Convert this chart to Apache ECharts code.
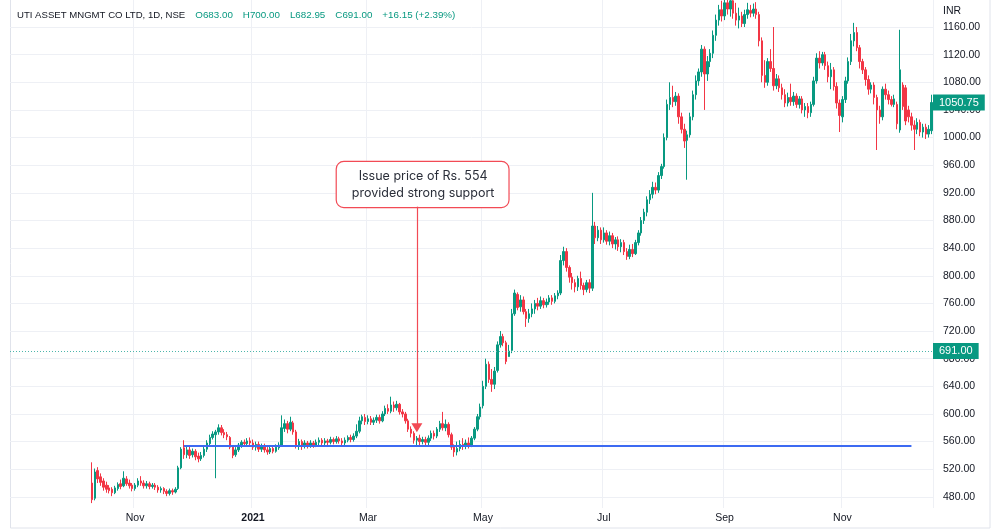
<!DOCTYPE html>
<html>
<head>
<meta charset="utf-8">
<script src="https://cdn.jsdelivr.net/npm/echarts@6/dist/echarts.min.js"></script>
<style>
html,body{margin:0;padding:0;background:#fff;}
#chart{width:1000px;height:531px;}
</style>
</head>
<body>
<div id="chart"></div>
<script>
// ---------- text ----------
const symbolTitle = 'UTI ASSET MNGMT CO LTD, 1D, NSE';
const legendValues = ['O683.00', 'H700.00', 'L682.95', 'C691.00', '+16.15 (+2.39%)'];
const currencyLabel = 'INR';
const annotationText = ['Issue price of Rs. 554', 'provided strong support'];

// ---------- axis ----------
const priceTicks = [480, 520, 560, 600, 640, 680, 720, 760, 800, 840, 880, 920, 960, 1000, 1040, 1080, 1120, 1160];
const monthLabelDates = ['2020-11-02', '2021-01-01', '2021-03-01', '2021-05-03', '2021-07-01', '2021-09-01', '2021-11-01'];
const monthLabelTexts = ['Nov', '2021', 'Mar', 'May', 'Jul', 'Sep', 'Nov'];
const axisStartDate = '2020-09-01';
const listingDate = '2020-10-12';
const holidays = ['2020-10-02', '2020-11-16', '2020-11-30', '2020-12-25', '2021-01-26', '2021-03-11', '2021-03-29',
  '2021-04-02', '2021-04-14', '2021-04-21', '2021-05-13', '2021-07-21', '2021-08-19', '2021-09-10', '2021-10-15',
  '2021-11-04', '2021-11-05', '2021-11-19'];

// ---------- key prices ----------
const issuePrice = 554;
const crosshairPrice = 691.00;
const lastPrice = 1050.75;

// ---------- daily bars: [open, close, low, high] ----------
const oct2020 = [[500,476,471,530],[478,516,475,521],[518,506,500,523],[509,501,496,514],[503,494,489,507],[497,491,486,502],[493,489,485,497],[491,486,481,494],[486,493,484,496],[492,498,489,501],[499,495,491,505],[496,507,494,517],[506,499,496,510],[500,496,492,505],[497,492,488,500]];
const nov2020 = [[492,497,489,500],[497,503,494,507],[503,500,496,510],[500,496,492,504],[496,499,492,503],[499,495,491,502],[495,497,492,500],[497,494,490,500],[494,490,486,497],[490,492,486,495],[492,488,484,494],[488,485,481,491],[485,489,482,492],[489,487,483,492],[487,491,485,494],[492,522,490,525],[522,549,520,552],[551,541,535,562],[541,548,536,553]];
const dec2020 = [[548,540,535,553],[541,546,537,550],[546,538,533,549],[539,535,530,544],[535,540,532,545],[540,549,537,553],[549,558,545,562],[557,566,553,570],[566,571,563,575],[570,574,507,577],[574,580,570,585],[580,573,569,584],[573,570,565,578],[570,567,562,574],[566,552,549,568],[552,540,536,555],[541,548,538,552],[548,555,545,558],[555,559,551,562],[559,557,553,563],[557,561,553,565],[561,558,554,566]];
const jan2021 = [[558,552,548,563],[552,556,547,560],[556,549,545,560],[549,553,545,557],[553,548,544,557],[548,545,541,552],[545,550,542,554],[550,546,543,555],[546,552,544,556],[551,555,548,559],[555,580,553,598],[579,586,574,592],[586,578,572,590],[578,588,575,596],[587,574,570,590],[574,555,550,577],[555,560,548,564],[560,553,548,563],[553,558,550,562],[558,554,550,561]];
const feb2021 = [[554,558,551,562],[558,555,551,561],[555,559,552,563],[559,562,555,566],[562,558,554,565],[558,561,555,565],[561,559,555,564],[559,563,556,567],[563,560,556,566],[560,564,557,568],[564,561,557,567],[561,558,555,565],[558,562,555,566],[562,566,559,569],[566,563,559,570],[563,568,560,572],[568,575,565,585],[575,590,572,596],[590,596,585,599],[595,589,584,600]];
const mar2021 = [[589,593,585,598],[593,588,584,597],[588,591,584,595],[591,595,587,599],[595,590,586,599],[590,600,588,604],[600,608,597,612],[608,604,600,614],[604,613,601,625],[613,609,603,618],[609,614,605,619],[614,603,599,616],[603,600,595,607],[600,590,586,603],[590,578,574,593],[578,572,566,582],[572,562,557,575],[562,565,553,568],[565,560,555,570],[560,563,556,567],[563,559,553,567]];
const apr2021 = [[559,565,555,569],[565,572,561,576],[572,568,563,576],[568,578,565,581],[578,586,574,590],[586,580,576,603],[580,585,575,592],[585,570,566,588],[570,552,548,573],[552,545,538,556],[545,550,540,560],[550,556,546,562],[556,553,548,565],[553,558,549,563],[558,555,550,566],[555,565,552,568],[565,578,562,581],[578,596,575,600],[596,610,592,615]];
const may2021 = [[612,640,608,648],[640,672,636,680],[672,650,645,676],[650,643,632,665],[643,662,636,668],[663,700,660,705],[700,712,696,720],[712,703,698,716],[703,676,672,706],[683,691,682.95,700],[692,745,688,752],[745,775,742,780],[773,754,750,776],[755,765,748,772],[765,748,744,770],[748,738,726,752],[738,745,732,752],[745,752,740,760],[752,760,745,765],[760,756,750,768]];
const jun2021 = [[756,764,752,770],[764,758,753,768],[758,762,754,767],[762,768,758,772],[768,763,758,772],[763,771,760,775],[771,775,766,779],[775,822,772,830],[822,835,815,842],[835,812,806,840],[812,798,790,815],[798,790,780,804],[790,784,776,795],[784,796,778,800],[796,786,780,806],[786,780,772,790],[780,790,776,794],[790,782,775,795],[782,872,778,920],[872,855,846,878],[855,866,850,872],[866,852,846,870]];
const jul2021 = [[852,862,848,870],[862,850,845,866],[850,858,844,864],[858,846,840,862],[846,852,838,856],[852,842,836,857],[842,848,834,853],[848,835,830,852],[835,828,823,840],[828,838,824,845],[838,832,827,846],[832,848,830,852],[848,862,844,866],[862,880,858,885],[880,892,875,897],[892,910,886,915],[910,918,904,924],[918,928,912,936],[928,924,918,935],[924,945,920,950],[945,958,940,962]];
const aug2021 = [[958,1000,955,1006],[1000,1048,996,1055],[1048,1058,1040,1080],[1058,1052,1044,1075],[1052,1060,1046,1066],[1060,1030,1020,1064],[1030,1012,1006,1036],[1012,995,985,1020],[996,1004,939,1010],[1004,1030,1000,1036],[1030,1062,1025,1068],[1062,1082,1055,1090],[1082,1095,1075,1100],[1095,1128,1088,1134],[1128,1092,1040,1132],[1092,1110,1082,1118],[1110,1122,1102,1128],[1122,1148,1115,1155],[1148,1170,1140,1178],[1170,1185,1162,1192],[1185,1176,1168,1198]];
const sep2021 = [[1176,1195,1170,1210],[1195,1186,1178,1215],[1186,1198,1175,1212],[1198,1180,1172,1205],[1180,1170,1162,1195],[1170,1176,1158,1188],[1176,1165,1160,1182],[1165,1178,1160,1185],[1178,1185,1172,1195],[1184,1180,1174,1192],[1180,1186,1175,1194],[1186,1178,1172,1196],[1178,1140,1132,1182],[1140,1090,1080,1145],[1090,1080,1072,1112],[1080,1110,1075,1115],[1110,1100,1095,1128],[1100,1075,1068,1160],[1075,1085,1070,1092],[1085,1072,1066,1090],[1072,1062,1055,1078]];
const oct2021 = [[1062,1050,1044,1070],[1050,1058,1045,1065],[1058,1052,1046,1078],[1052,1060,1046,1066],[1060,1048,1043,1064],[1048,1056,1042,1060],[1056,1040,1035,1060],[1040,1045,1030,1050],[1045,1036,1028,1050],[1036,1048,1030,1052],[1048,1082,1045,1088],[1082,1115,1078,1122],[1115,1108,1100,1125],[1108,1120,1104,1124],[1120,1104,1098,1124],[1104,1088,1080,1110],[1088,1098,1070,1108],[1098,1074,1068,1102],[1074,1050,1042,1080],[1050,1032,1008,1055]];
const nov2021 = [[1030,1055,1022,1060],[1055,1082,1050,1088],[1082,1110,1078,1116],[1110,1140,1105,1150],[1140,1152,1132,1166],[1152,1130,1125,1160],[1130,1110,1100,1134],[1110,1098,1092,1114],[1098,1084,1075,1102],[1084,1070,1062,1090],[1070,1076,1064,1080],[1076,1058,1048,1080],[1058,1040,982,1062],[1040,1030,1020,1046],[1030,1070,1025,1074],[1070,1062,1055,1078],[1062,1055,1048,1068],[1055,1048,1045,1060],[1048,1056,1044,1062]];
const dec2021 = [[1048,1020,1012,1052],[1011,1098,1007,1156],[1076,1045,1040,1080],[1072,1024,1018,1076],[1040,1030,1022,1046],[1030,1018,1010,1036],[1018,1012,982,1025],[1012,1022,1005,1028],[1022,1008,1002,1026],[1008,1015,1000,1020],[1015,1005,998,1020],[1005,1012,1000,1018],[1010,1050.75,1005,1062]];

// ---------- build ----------
const bars = [].concat(oct2020, nov2020, dec2020, jan2021, feb2021, mar2021, apr2021, may2021, jun2021, jul2021, aug2021, sep2021, oct2021, nov2021, dec2021);

function buildTradingDays(start, listing, barCount, skip) {
  const out = [];
  let after = 0;
  const d = new Date(start + 'T00:00:00Z');
  while (after < barCount) {
    const wd = d.getUTCDay();
    const s = d.toISOString().slice(0, 10);
    if (wd !== 0 && wd !== 6 && skip.indexOf(s) < 0) {
      out.push(s);
      if (s >= listing) after++;
    }
    d.setUTCDate(d.getUTCDate() + 1);
  }
  return out;
}
const days = buildTradingDays(axisStartDate, listingDate, bars.length, holidays);
const pad = days.indexOf(listingDate);
const seriesData = bars.map((b, i) => [days[pad + i], b[0], b[1], b[2], b[3]]);
const labelMap = {};
monthLabelDates.forEach((d, i) => { labelMap[d] = monthLabelTexts[i]; });

const UP = '#089981', DOWN = '#f23645';
const FONT = '"Liberation Sans", Arial, sans-serif';

const supportFrom = days[pad + 32], supportTo = days[pad + 285];
const arrowDay = days[pad + 113];
const noteDay = days[pad + 115];

const priceTag = (txt) => ({
  show: true, position: 'end', distance: 0, formatter: txt,
  backgroundColor: UP, color: '#fff', padding: [3, 6, 2, 6],
  fontSize: 11, fontFamily: FONT
});
const arrowStyle = { color: '#f24a55', width: 1.2, type: 'solid' };

const chart = echarts.init(document.getElementById('chart'), null, { renderer: 'canvas' });
chart.setOption({
  animation: false,
  backgroundColor: '#ffffff',
  title: [{
    left: 12, top: 1,
    text: '{t|' + symbolTitle + '}  {g|' + legendValues.slice(0, 4).join('}  {g|') + '}  {g|' + legendValues[4] + '}',
    textStyle: {
      fontWeight: 'normal',
      rich: {
        t: { color: '#131722', fontSize: 9.6, fontFamily: FONT, fontWeight: 'normal' },
        g: { color: UP, fontSize: 9.8, fontFamily: FONT, fontWeight: 'normal' }
      }
    }
  }, {
    left: 938, top: 1,
    text: currencyLabel,
    textStyle: { color: '#131722', fontSize: 10.5, fontWeight: 'normal', fontFamily: FONT }
  }],
  grid: { left: 10, right: 67, top: 0, bottom: 23, containLabel: false },
  xAxis: {
    type: 'category',
    data: days,
    boundaryGap: true,
    axisLine: { show: false },
    axisTick: { show: false },
    axisLabel: {
      interval: (idx, val) => labelMap[val] !== undefined,
      formatter: (val) => labelMap[val] === '2021' ? '{b|2021}' : (labelMap[val] || ''),
      color: '#131722', fontSize: 10.5, fontFamily: FONT, margin: 5,
      rich: { b: { fontWeight: 'bold', color: '#131722', fontSize: 10.5, fontFamily: FONT } }
    },
    splitLine: {
      show: true,
      interval: (idx, val) => labelMap[val] !== undefined,
      lineStyle: { color: '#eef0f5', width: 1 }
    }
  },
  yAxis: {
    type: 'value',
    position: 'right',
    min: 463.9,
    max: 1199.1,
    axisLine: { show: false },
    axisTick: { show: false, customValues: priceTicks },
    axisLabel: {
      customValues: priceTicks,
      formatter: (v) => v.toFixed(2),
      color: '#131722', fontSize: 10.5, fontFamily: FONT, margin: 10
    },
    splitLine: { show: true, lineStyle: { color: '#eef0f5', width: 1 } }
  },
  graphic: [{
    type: 'rect', silent: true, z: 0,
    shape: { x: 10.5, y: -2, width: 979.5, height: 530 },
    style: { fill: 'none', stroke: '#e0e3eb', lineWidth: 1 }
  }],
  series: [{
    type: 'candlestick',
    data: seriesData,
    dimensions: ['date', 'open', 'close', 'lowest', 'highest'],
    encode: { x: 0, y: [1, 2, 3, 4] },
    barWidth: 2,
    clip: true,
    itemStyle: { color: UP, color0: DOWN, borderColor: UP, borderColor0: DOWN, borderWidth: 1 },
    markLine: {
      silent: true,
      animation: false,
      symbol: ['none', 'none'],
      z: 10,
      lineStyle: { color: '#4db6ac' },
      data: [
        {
          yAxis: crosshairPrice,
          lineStyle: { color: '#4db6ac', type: [1, 2], width: 1, opacity: 1 },
          label: priceTag(crosshairPrice.toFixed(2))
        },
        {
          yAxis: lastPrice,
          lineStyle: { color: 'rgba(255,255,255,0)', width: 0.01, type: 'solid' },
          label: priceTag(lastPrice.toFixed(2))
        },
        [
          { coord: [supportFrom, issuePrice], lineStyle: { color: '#3d6af2', width: 2, type: 'solid' }, label: { show: false } },
          { coord: [supportTo, issuePrice], lineStyle: { color: '#3d6af2', width: 2, type: 'solid' } }
        ],
        [
          { coord: [arrowDay, 900], symbol: 'none', lineStyle: arrowStyle, itemStyle: { color: '#f24a55' }, label: { show: false } },
          { coord: [arrowDay, 580], symbol: 'triangle', symbolSize: [11, 9], symbolRotate: 180, lineStyle: arrowStyle, itemStyle: { color: '#f23645' } }
        ]
      ]
    },
    markPoint: {
      silent: true,
      animation: false,
      symbol: 'rect',
      symbolSize: 1,
      itemStyle: { color: 'rgba(0,0,0,0)' },
      data: [{
        coord: [noteDay, 932],
        label: {
          show: true, position: 'inside',
          formatter: annotationText.join('\n'),
          backgroundColor: '#ffffff', borderColor: '#f24a55', borderWidth: 1.2, borderRadius: 7,
          padding: [6, 14, 5, 15], color: '#2a2e39', fontSize: 12.5, lineHeight: 17,
          fontFamily: 'Inter, "Open Sans", sans-serif', align: 'center'
        }
      }]
    }
  }]
});
</script>
</body>
</html>
